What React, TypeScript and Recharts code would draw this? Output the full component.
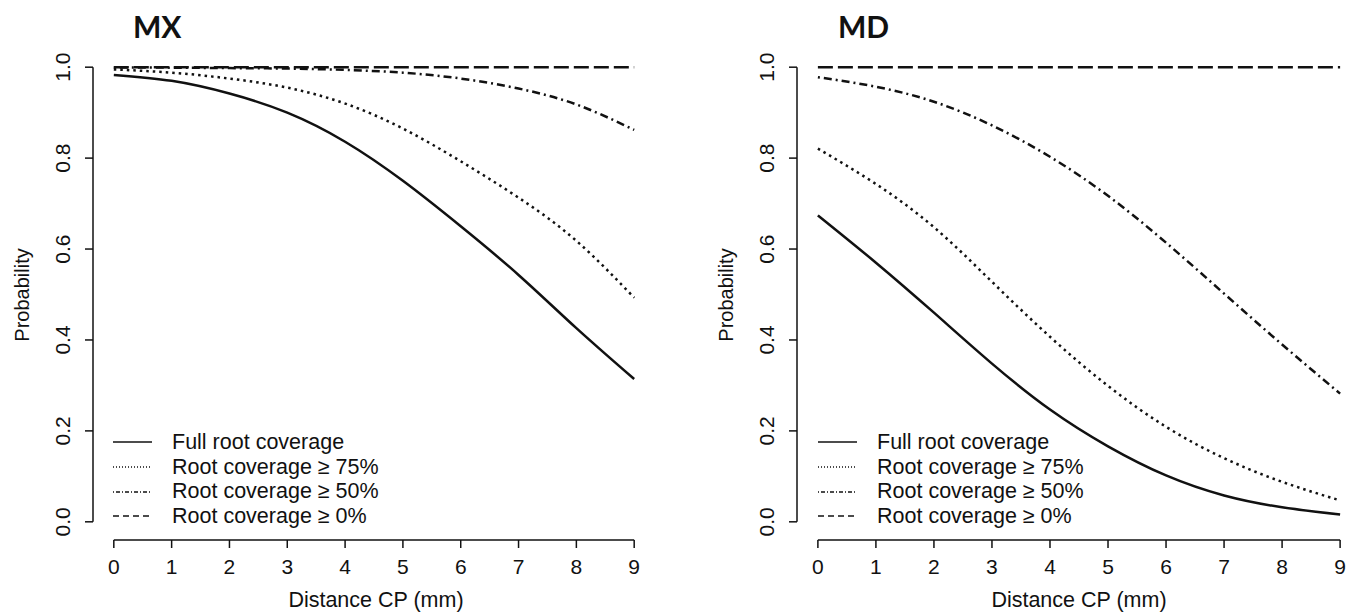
import React from 'react';
import { LineChart, Line, XAxis, YAxis, ReferenceLine, Legend } from 'recharts';

// distance CP (mm)
const distance = [0, 1, 2, 3, 4, 5, 6, 7, 8, 9];
const probTicks = [0, 0.2, 0.4, 0.6, 0.8, 1.0];

// MX panel
const mxFull = [0.983, 0.97, 0.942, 0.9, 0.836, 0.75, 0.65, 0.543, 0.426, 0.314];
const mx75 = [0.995, 0.988, 0.975, 0.955, 0.92, 0.865, 0.793, 0.713, 0.618, 0.493];
const mx50 = [0.999, 0.999, 0.998, 0.997, 0.994, 0.988, 0.975, 0.953, 0.918, 0.862];
const mx0 = [1, 1, 1, 1, 1, 1, 1, 1, 1, 1];

// MD panel
const mdFull = [0.674, 0.57, 0.46, 0.348, 0.247, 0.166, 0.102, 0.058, 0.032, 0.016];
const md75 = [0.821, 0.743, 0.648, 0.528, 0.407, 0.299, 0.209, 0.14, 0.088, 0.047];
const md50 = [0.978, 0.957, 0.924, 0.872, 0.803, 0.717, 0.614, 0.502, 0.39, 0.282];
const md0 = [1, 1, 1, 1, 1, 1, 1, 1, 1, 1];

const seriesKeys = ['full', 'r75', 'r50', 'r0'];
const seriesNames: Record<string, string> = {
  full: 'Full root coverage',
  r75: 'Root coverage \u2265 75%',
  r50: 'Root coverage \u2265 50%',
  r0: 'Root coverage \u2265 0%',
};

const lineDash: Record<string, string | undefined> = {
  full: undefined,
  r75: '2.5 4',
  r50: '2 4 8 4',
  r0: '15 5',
};
const legendDash: Record<string, string | undefined> = {
  full: undefined,
  r75: '1 2',
  r50: '1 2 4 2',
  r0: '6 4',
};

const FONT = '"Liberation Sans", Arial, sans-serif';

const buildRows = (full: number[], r75: number[], r50: number[], r0: number[]) =>
  distance.map((d, i) => ({ d, full: full[i], r75: r75[i], r50: r50[i], r0: r0[i] }));

const mxRows = buildRows(mxFull, mx75, mx50, mx0);
const mdRows = buildRows(mdFull, md75, md50, md0);

const XTick = (props: any) => (
  <text x={props.x} y={props.y} dy={26} textAnchor="middle" fontSize={21} fontFamily={FONT} fill="#111">
    {props.payload.value}
  </text>
);

const YTick = (props: any) => (
  <text
    x={props.x}
    y={props.y}
    transform={`rotate(-90 ${props.x} ${props.y})`}
    textAnchor="middle"
    fontSize={21}
    fontFamily={FONT}
    fill="#111"
  >
    {Number(props.payload.value).toFixed(1)}
  </text>
);

const LegendContent = (props: any) => {
  const items = [...(props.payload || [])].sort(
    (a: any, b: any) => seriesKeys.indexOf(a.dataKey) - seriesKeys.indexOf(b.dataKey)
  );
  return (
    <div style={{ fontFamily: FONT, fontSize: 21.5, color: '#111' }}>
      {items.map((entry: any) => (
        <div key={entry.dataKey} style={{ height: 24.7, display: 'flex', alignItems: 'center', whiteSpace: 'nowrap' }}>
          <svg width={40} height={6}>
            <line x1={0} y1={3} x2={39} y2={3} stroke="#111" strokeWidth={1.3} strokeDasharray={legendDash[entry.dataKey]} />
          </svg>
          <span style={{ marginLeft: 19 }}>{entry.value}</span>
        </div>
      ))}
    </div>
  );
};

function Panel({ rows, width, yWidth, right, legendLeft }: any) {
  return (
    <LineChart width={width} height={614} data={rows} margin={{ top: 49, right, bottom: 0, left: 0 }}>
      <XAxis
        type="number"
        dataKey="d"
        domain={[-0.36, 9.36]}
        ticks={distance}
        axisLine={false}
        tickSize={8}
        tickMargin={0}
        tick={XTick}
        tickLine={{ stroke: '#111', strokeWidth: 1.5 }}
        height={74}
        interval={0}
      />
      <YAxis
        type="number"
        domain={[-0.04, 1.04]}
        ticks={probTicks}
        axisLine={false}
        tickSize={8}
        tickMargin={15}
        tick={YTick}
        tickLine={{ stroke: '#111', strokeWidth: 1.5 }}
        width={yWidth}
        interval={0}
      />
      <ReferenceLine segment={[{ x: 0, y: -0.04 }, { x: 9, y: -0.04 }]} stroke="#111" strokeWidth={1.5} ifOverflow="visible" />
      <ReferenceLine segment={[{ x: -0.36, y: 0 }, { x: -0.36, y: 1 }]} stroke="#111" strokeWidth={1.5} ifOverflow="visible" />
      {seriesKeys.map((k) => (
        <Line
          key={k}
          type="natural"
          dataKey={k}
          name={seriesNames[k]}
          stroke="#111"
          strokeWidth={2.5}
          strokeDasharray={lineDash[k]}
          dot={false}
          activeDot={false}
          isAnimationActive={false}
        />
      ))}
      <Legend
        layout="vertical"
        align="center"
        verticalAlign="middle"
        itemSorter={(item: any) => seriesKeys.indexOf(item.dataKey)}
        wrapperStyle={{ left: legendLeft, top: 430, width: 'auto' }}
        content={LegendContent}
      />
    </LineChart>
  );
}

export default function App() {
  return (
    <div style={{ position: 'absolute', left: 0, top: 0, width: 1360, height: 614, overflow: 'hidden', background: '#fff' }}>
      <div style={{ position: 'absolute', left: 0, top: 0 }}>
        <Panel rows={mxRows} width={680} yWidth={93} right={25} legendLeft={113} />
      </div>
      <div style={{ position: 'absolute', left: 680, top: 0 }}>
        <Panel rows={mdRows} width={700} yWidth={117} right={19} legendLeft={138} />
      </div>
      <svg width={1360} height={614} style={{ position: 'absolute', left: 0, top: 0, pointerEvents: 'none' }}>
        <text x={133} y={38} fontSize={30} fontWeight={700} fontFamily="Lato, 'Open Sans', sans-serif" fill="#111">MX</text>
        <text x={838} y={38} fontSize={30} fontWeight={700} fontFamily="Lato, 'Open Sans', sans-serif" fill="#111">MD</text>
        <text x={29} y={295} transform="rotate(-90 29 295)" textAnchor="middle" fontSize={20} fontFamily={FONT} fill="#111">Probability</text>
        <text x={733} y={295} transform="rotate(-90 733 295)" textAnchor="middle" fontSize={20} fontFamily={FONT} fill="#111">Probability</text>
        <text x={376} y={607} textAnchor="middle" fontSize={21.5} fontFamily={FONT} fill="#111">Distance CP (mm)</text>
        <text x={1079} y={607} textAnchor="middle" fontSize={21.5} fontFamily={FONT} fill="#111">Distance CP (mm)</text>
      </svg>
    </div>
  );
}
